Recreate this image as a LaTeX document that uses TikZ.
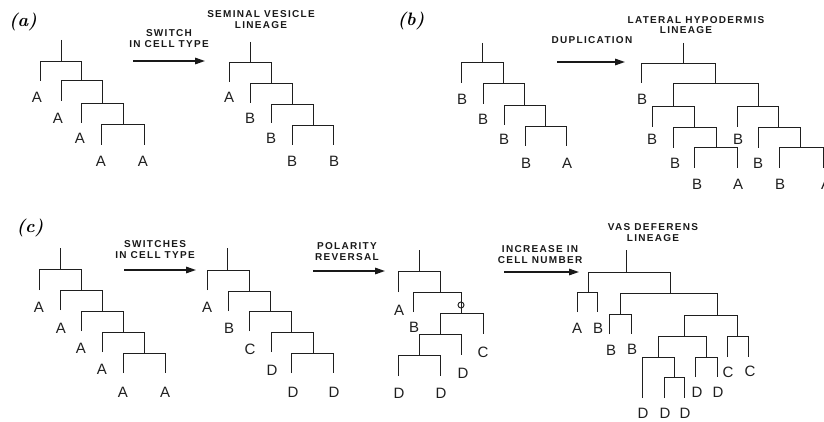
\documentclass[tikz,border=0pt]{standalone}
\usepackage{fontspec}
\usetikzlibrary{arrows.meta}
\newfontfamily\leafface{Liberation Sans}
\newfontfamily\capface{Liberation Sans}[LetterSpace=13, BoldFeatures={LetterSpace=13}]
\tikzset{
  tree/.style={line width=0.95pt, line cap=butt, line join=miter, color=black!88},
  leaf/.style={inner sep=0pt, font=\leafface\fontsize{15}{15}\selectfont, text=black!88},
  caption/.style={inner sep=0pt, align=center, font=\capface\bfseries\fontsize{10}{11}\selectfont, text=black!90},
  panel/.style={inner sep=0pt, font=\fontsize{18}{18}\selectfont\bfseries\itshape},
  steparrow/.style={line width=1.5pt, color=black!90, -{Triangle[length=10pt,width=6.5pt]}}
}
\begin{document}
\begin{tikzpicture}[x=1pt,y=-1pt]
\useasboundingbox (0,0) rectangle (824,422);
\clip (0,0) rectangle (824,422);

% ---------- panel (a) ----------
\node[panel] (pa) at (23,22) {(a)};

% ancestral lineage
\draw[tree] (61,40) -- (61,61);
\draw[tree] (40,81) -- (40,61) -- (81,61) -- (81,80);
\draw[tree] (61,101) -- (61,80) -- (102,80) -- (102,103);
\draw[tree] (81,123) -- (81,103) -- (123,103) -- (123,124);
\draw[tree] (101,145) -- (101,124) -- (144,124) -- (144,145);
\node[leaf] (a1) at (37,97) {A};
\node[leaf] (a2) at (58,118) {A};
\node[leaf] (a3) at (80,138) {A};
\node[leaf] (a4) at (101,161) {A};
\node[leaf] (a5) at (143,161) {A};

% arrow and its caption
\node[caption] (capA) at (169,39) {SWITCH\\IN CELL TYPE};
\coordinate (arA0) at (133,61);
\coordinate (arA1) at (205,61);
\draw[steparrow] (arA0) -- (arA1);

% seminal vesicle lineage
\node[caption] (titA) at (261,20) {SEMINAL VESICLE\\LINEAGE};
\draw[tree] (250,42) -- (250,62);
\draw[tree] (229,82) -- (229,62) -- (271,62) -- (271,83);
\draw[tree] (250,103) -- (250,83) -- (292,83) -- (292,104);
\draw[tree] (271,123) -- (271,104) -- (313,104) -- (313,125);
\draw[tree] (292,145) -- (292,125) -- (333,125) -- (333,145);
\node[leaf] (sv1) at (229,97) {A};
\node[leaf] (sv2) at (250,118) {B};
\node[leaf] (sv3) at (271,138) {B};
\node[leaf] (sv4) at (292,161) {B};
\node[leaf] (sv5) at (334,161) {B};

% ---------- panel (b) ----------
\node[panel] (pb) at (411,21) {(b)};

\draw[tree] (482,43) -- (482,62);
\draw[tree] (461,83) -- (461,62) -- (503,62) -- (503,83);
\draw[tree] (483,104) -- (483,83) -- (524,83) -- (524,105);
\draw[tree] (504,125) -- (504,105) -- (545,105) -- (545,126);
\draw[tree] (525,146) -- (525,126) -- (566,126) -- (566,146);
\node[leaf] (b1) at (462,99) {B};
\node[leaf] (b2) at (483,119) {B};
\node[leaf] (b3) at (504,139) {B};
\node[leaf] (b4) at (526,163) {B};
\node[leaf] (b5) at (567,163) {A};

\node[caption] (capB) at (592,40) {DUPLICATION};
\coordinate (arB0) at (557,62);
\coordinate (arB1) at (625,62);
\draw[steparrow] (arB0) -- (arB1);

% lateral hypodermis lineage
\node[caption] (titB1) at (696,20) {LATERAL HYPODERMIS};
\node[caption] (titB2) at (686,30) {LINEAGE};
\draw[tree] (683,43) -- (683,63);
\draw[tree] (641,83) -- (641,63) -- (715,63) -- (715,83);
\draw[tree] (673,106) -- (673,83) -- (758,83) -- (758,106);
\draw[tree] (652,127) -- (652,106) -- (694,106) -- (694,127);
\draw[tree] (673,148) -- (673,127) -- (716,127) -- (716,147);
\draw[tree] (694,168) -- (694,147) -- (737,147) -- (737,168);
\draw[tree] (737,127) -- (737,106) -- (778,106) -- (778,127);
\draw[tree] (758,148) -- (758,127) -- (800,127) -- (800,147);
\draw[tree] (779,168) -- (779,147) -- (823,147) -- (823,168);
\node[leaf] (h1) at (642,99) {B};
\node[leaf] (h2) at (652,139) {B};
\node[leaf] (h3) at (675,163) {B};
\node[leaf] (h4) at (697,184) {B};
\node[leaf] (h5) at (738,184) {A};
\node[leaf] (h6) at (738,139) {B};
\node[leaf] (h7) at (758,163) {B};
\node[leaf] (h8) at (780,184) {B};
\node[leaf] (h9) at (826,184) {A};

% ---------- panel (c) ----------
\node[panel] (pc) at (30,228) {(c)};

\draw[tree] (60,248) -- (60,269);
\draw[tree] (39,290) -- (39,269) -- (81,269) -- (81,290);
\draw[tree] (60,310) -- (60,290) -- (102,290) -- (102,311);
\draw[tree] (81,331) -- (81,311) -- (123,311) -- (123,332);
\draw[tree] (102,352) -- (102,332) -- (144,332) -- (144,353);
\draw[tree] (123,373) -- (123,353) -- (165,353) -- (165,373);
\node[leaf] (c1) at (39,307) {A};
\node[leaf] (c2) at (61,328) {A};
\node[leaf] (c3) at (81,348) {A};
\node[leaf] (c4) at (102,369) {A};
\node[leaf] (c5) at (123,392) {A};
\node[leaf] (c6) at (165,392) {A};

\node[caption] (capC1) at (155,250) {SWITCHES\\IN CELL TYPE};
\coordinate (arC0) at (124,270);
\coordinate (arC1) at (196,270);
\draw[steparrow] (arC0) -- (arC1);

\draw[tree] (227,248) -- (227,270);
\draw[tree] (207,290) -- (207,270) -- (249,270) -- (249,291);
\draw[tree] (228,311) -- (228,291) -- (270,291) -- (270,311);
\draw[tree] (249,331) -- (249,311) -- (291,311) -- (291,332);
\draw[tree] (271,352) -- (271,332) -- (313,332) -- (313,353);
\draw[tree] (291,373) -- (291,353) -- (333,353) -- (333,373);
\node[leaf] (d1) at (207,307) {A};
\node[leaf] (d2) at (229,328) {B};
\node[leaf] (d3) at (250,349) {C};
\node[leaf] (d4) at (272,370) {D};
\node[leaf] (d5) at (293,392) {D};
\node[leaf] (d6) at (334,392) {D};

\node[caption] (capC2) at (347,252) {POLARITY\\REVERSAL};
\coordinate (arD0) at (313,271);
\coordinate (arD1) at (385,271);
\draw[steparrow] (arD0) -- (arD1);

% reversed lineage
\draw[tree] (419,250) -- (419,271);
\draw[tree] (398,292) -- (398,271) -- (440,271) -- (440,292);
\draw[tree] (413,312) -- (413,292) -- (461,292) -- (461,313);
\draw[tree] (461,305) circle (3);
\draw[tree] (440,334) -- (440,313) -- (483,313) -- (483,334);
\draw[tree] (419,355) -- (419,334) -- (461,334) -- (461,355);
\draw[tree] (398,376) -- (398,355) -- (440,355) -- (440,376);
\node[leaf] (r1) at (399,310) {A};
\node[leaf] (r2) at (414,327) {B};
\node[leaf] (r3) at (483,352) {C};
\node[leaf] (r4) at (463,373) {D};
\node[leaf] (r5) at (399,393) {D};
\node[leaf] (r6) at (441,393) {D};

\node[caption] (capC3) at (540,255) {INCREASE IN\\CELL NUMBER};
\coordinate (arE0) at (504,272);
\coordinate (arE1) at (579,272);
\draw[steparrow] (arE0) -- (arE1);

% vas deferens lineage
\node[caption] (titC) at (653,233) {VAS DEFERENS\\LINEAGE};
\draw[tree] (626,250) -- (626,272);
\draw[tree] (588,292) -- (588,272) -- (670,272) -- (670,293);
\draw[tree] (577,312) -- (577,292) -- (597,292) -- (597,312);
\draw[tree] (620,314) -- (620,293) -- (717,293) -- (717,315);
\draw[tree] (609,334) -- (609,314) -- (631,314) -- (631,334);
\draw[tree] (684,336) -- (684,315) -- (737,315) -- (737,336);
\draw[tree] (727,357) -- (727,336) -- (748,336) -- (748,357);
\draw[tree] (658,357) -- (658,336) -- (706,336) -- (706,357);
\draw[tree] (695,377) -- (695,357) -- (717,357) -- (717,377);
\draw[tree] (642,398) -- (642,357) -- (674,357) -- (674,377);
\draw[tree] (664,398) -- (664,377) -- (684,377) -- (684,398);
\node[leaf] (v1) at (577,328) {A};
\node[leaf] (v2) at (598,328) {B};
\node[leaf] (v3) at (611,350) {B};
\node[leaf] (v4) at (632,349) {B};
\node[leaf] (v5) at (728,372) {C};
\node[leaf] (v6) at (750,371) {C};
\node[leaf] (v7) at (697,392) {D};
\node[leaf] (v8) at (718,392) {D};
\node[leaf] (v9) at (643,413) {D};
\node[leaf] (v10) at (665,413) {D};
\node[leaf] (v11) at (685,413) {D};
\end{tikzpicture}
\end{document}
